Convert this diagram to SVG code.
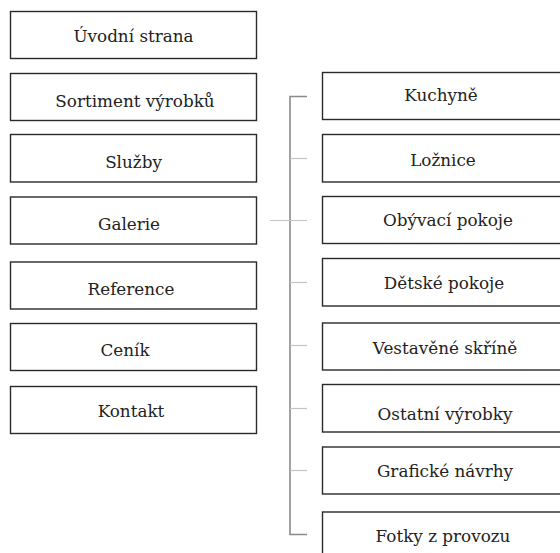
<svg xmlns="http://www.w3.org/2000/svg" width="560" height="553" viewBox="0 0 560 553">
<style>
.box{fill:#fff;stroke:#2a2a2a;stroke-width:1.4}
.t{font-family:"DejaVu Serif","Liberation Serif",serif;font-size:16.8px;fill:#222;text-anchor:middle}
.spine{stroke:#8a8a8a;stroke-width:1.6;fill:none}
.tick{stroke:#c4c4c4;stroke-width:1.2;fill:none}
</style>
<rect width="560" height="553" fill="#fff"/>
<g id="connectors">
<path class="spine" d="M307 96.5 H290 V534.5 H307"/>
<line class="tick" x1="290" y1="158.5" x2="307" y2="158.5"/>
<line class="tick" x1="270" y1="220.5" x2="307" y2="220.5"/>
<line class="tick" x1="290" y1="282.5" x2="307" y2="282.5"/>
<line class="tick" x1="290" y1="345.5" x2="307" y2="345.5"/>
<line class="tick" x1="290" y1="408.5" x2="307" y2="408.5"/>
<line class="tick" x1="290" y1="470.5" x2="307" y2="470.5"/>
</g>
<g id="uvodni"><rect class="box" x="10.5" y="11.5" width="246" height="47"/><text class="t" x="133.5" y="41.5">Úvodní strana</text></g>
<g id="sortiment"><rect class="box" x="10.5" y="73.5" width="246" height="47"/><text class="t" x="135" y="106.5">Sortiment výrobků</text></g>
<g id="sluzby"><rect class="box" x="10.5" y="134.5" width="246" height="47.5"/><text class="t" x="133.5" y="168">Služby</text></g>
<g id="galerie"><rect class="box" x="10.5" y="197" width="246" height="47"/><text class="t" x="129" y="230">Galerie</text></g>
<g id="reference"><rect class="box" x="10.5" y="262" width="246" height="47"/><text class="t" x="131" y="295">Reference</text></g>
<g id="cenik"><rect class="box" x="10.5" y="323.5" width="246" height="47"/><text class="t" x="125" y="356">Ceník</text></g>
<g id="kontakt"><rect class="box" x="10.5" y="386.5" width="246" height="47"/><text class="t" x="131" y="416.5">Kontakt</text></g>
<g id="kuchyne"><rect class="box" x="322.5" y="72.5" width="247" height="47"/><text class="t" x="441" y="100.5">Kuchyně</text></g>
<g id="loznice"><rect class="box" x="322.5" y="134.5" width="247" height="47.5"/><text class="t" x="443" y="166">Ložnice</text></g>
<g id="obyvaci"><rect class="box" x="322.5" y="196.5" width="247" height="47"/><text class="t" x="448" y="225.5">Obývací pokoje</text></g>
<g id="detske"><rect class="box" x="322.5" y="258.5" width="247" height="47.5"/><text class="t" x="444" y="288.5">Dětské pokoje</text></g>
<g id="vestavene"><rect class="box" x="322.5" y="323" width="247" height="47"/><text class="t" x="445" y="353.5">Vestavěné skříně</text></g>
<g id="ostatni"><rect class="box" x="322.5" y="384.5" width="247" height="47.5"/><text class="t" x="445" y="420">Ostatní výrobky</text></g>
<g id="graficke"><rect class="box" x="322.5" y="447" width="247" height="47"/><text class="t" x="445" y="477">Grafické návrhy</text></g>
<g id="fotky"><rect class="box" x="322.5" y="512" width="247" height="47"/><text class="t" x="443" y="541.5">Fotky z provozu</text></g>
</svg>
